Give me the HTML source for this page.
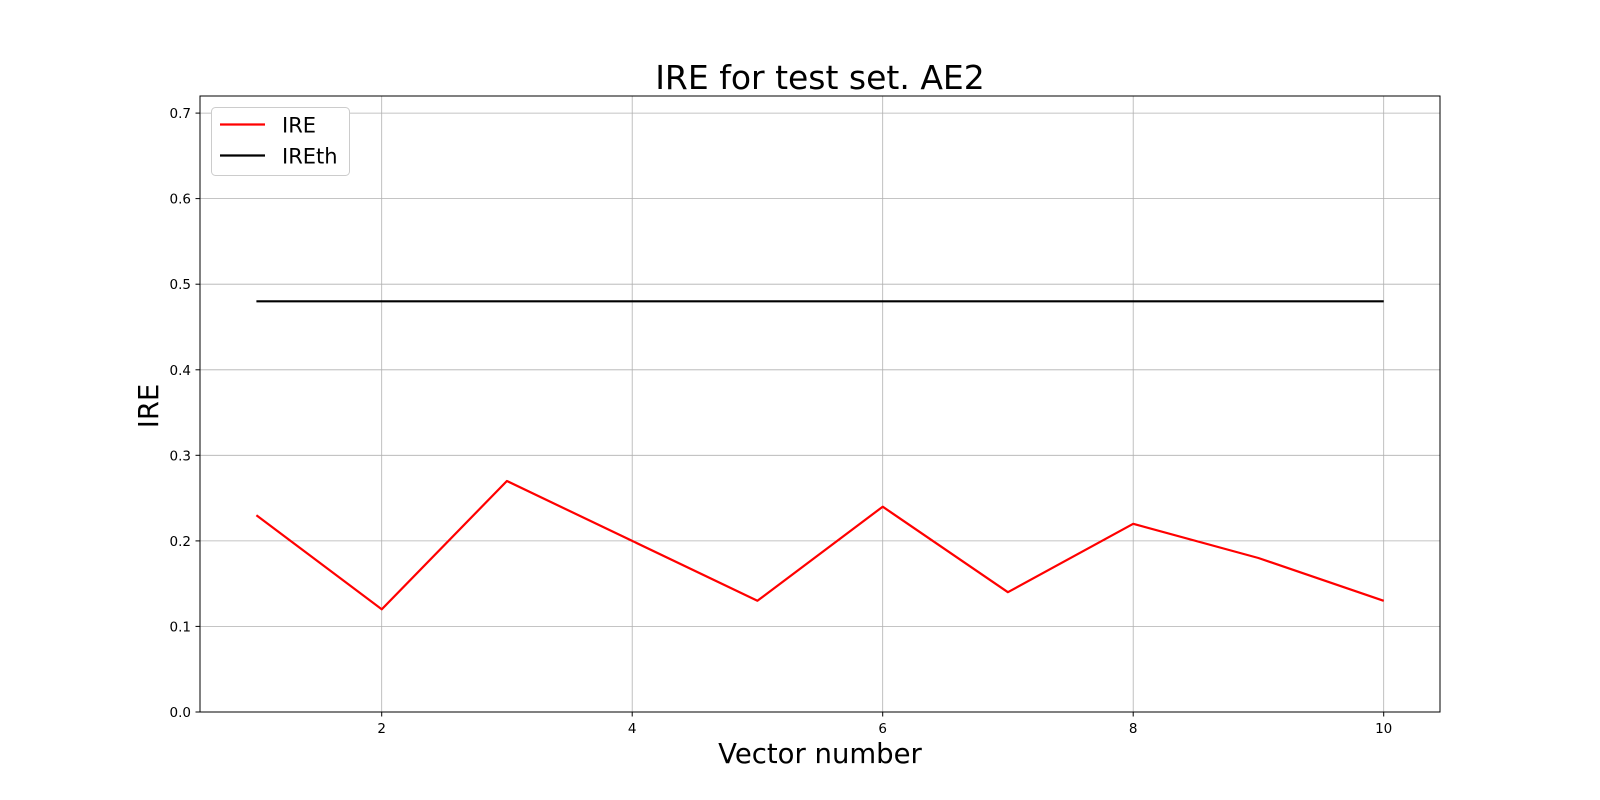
<!DOCTYPE html>
<html><head><meta charset="utf-8"><style>body{margin:0;background:#fff}svg{display:block}</style></head>
<body>
<svg width="1600" height="800" xmlns="http://www.w3.org/2000/svg" font-family="DejaVu Sans, Liberation Sans, sans-serif">
<rect width="1600" height="800" fill="#fff"/>
<g stroke="#b0b0b0" stroke-width="0.8">
<line x1="381.7" y1="96" x2="381.7" y2="712"/><line x1="632.2" y1="96" x2="632.2" y2="712"/><line x1="882.7" y1="96" x2="882.7" y2="712"/><line x1="1133.2" y1="96" x2="1133.2" y2="712"/><line x1="1383.7" y1="96" x2="1383.7" y2="712"/>
<line x1="200" y1="626.4" x2="1440" y2="626.4"/><line x1="200" y1="540.9" x2="1440" y2="540.9"/><line x1="200" y1="455.3" x2="1440" y2="455.3"/><line x1="200" y1="369.8" x2="1440" y2="369.8"/><line x1="200" y1="284.2" x2="1440" y2="284.2"/><line x1="200" y1="198.6" x2="1440" y2="198.6"/><line x1="200" y1="113.1" x2="1440" y2="113.1"/>
</g>
<line x1="256.4" y1="301.3" x2="1383.7" y2="301.3" stroke="#000" stroke-width="2.2"/>
<polyline fill="none" stroke="#f00" stroke-width="2.2" stroke-linejoin="round" points="256.4,515.2 381.7,609.3 506.9,481 632.2,540.9 757.4,600.8 882.7,506.7 1007.9,592.2 1133.2,523.8 1258.4,558 1383.7,600.8"/>
<rect x="200" y="96" width="1240" height="616" fill="none" stroke="#000" stroke-width="1"/>
<g stroke="#000" stroke-width="1">
<line x1="381.7" y1="712" x2="381.7" y2="716.5"/><line x1="632.2" y1="712" x2="632.2" y2="716.5"/><line x1="882.7" y1="712" x2="882.7" y2="716.5"/><line x1="1133.2" y1="712" x2="1133.2" y2="716.5"/><line x1="1383.7" y1="712" x2="1383.7" y2="716.5"/>
<line x1="195.5" y1="712" x2="200" y2="712"/><line x1="195.5" y1="626.4" x2="200" y2="626.4"/><line x1="195.5" y1="540.9" x2="200" y2="540.9"/><line x1="195.5" y1="455.3" x2="200" y2="455.3"/><line x1="195.5" y1="369.8" x2="200" y2="369.8"/><line x1="195.5" y1="284.2" x2="200" y2="284.2"/><line x1="195.5" y1="198.6" x2="200" y2="198.6"/><line x1="195.5" y1="113.1" x2="200" y2="113.1"/>
</g>
<g font-size="13.5" fill="#000" text-anchor="middle">
<text x="381.7" y="733">2</text><text x="632.2" y="733">4</text><text x="882.7" y="733">6</text><text x="1133.2" y="733">8</text><text x="1383.7" y="733">10</text>
</g>
<g font-size="13.5" fill="#000" text-anchor="end">
<text x="191" y="717">0.0</text><text x="191" y="631.4">0.1</text><text x="191" y="545.9">0.2</text><text x="191" y="460.3">0.3</text><text x="191" y="374.8">0.4</text><text x="191" y="289.2">0.5</text><text x="191" y="203.6">0.6</text><text x="191" y="118.1">0.7</text>
</g>
<text x="820" y="89" font-size="33" text-anchor="middle">IRE for test set. AE2</text>
<text x="820" y="763" font-size="27.5" text-anchor="middle">Vector number</text>
<text transform="translate(158,406) rotate(-90)" font-size="27.5" text-anchor="middle">IRE</text>
<rect x="211.5" y="107.5" width="138" height="68" rx="4" fill="#fff" stroke="#ccc"/>
<line x1="220" y1="124.5" x2="265" y2="124.5" stroke="#f00" stroke-width="2.2"/>
<line x1="220" y1="155.5" x2="265" y2="155.5" stroke="#000" stroke-width="2.2"/>
<text x="282" y="132.5" font-size="21">IRE</text>
<text x="282" y="163.5" font-size="21">IREth</text>
</svg>
</body></html>
